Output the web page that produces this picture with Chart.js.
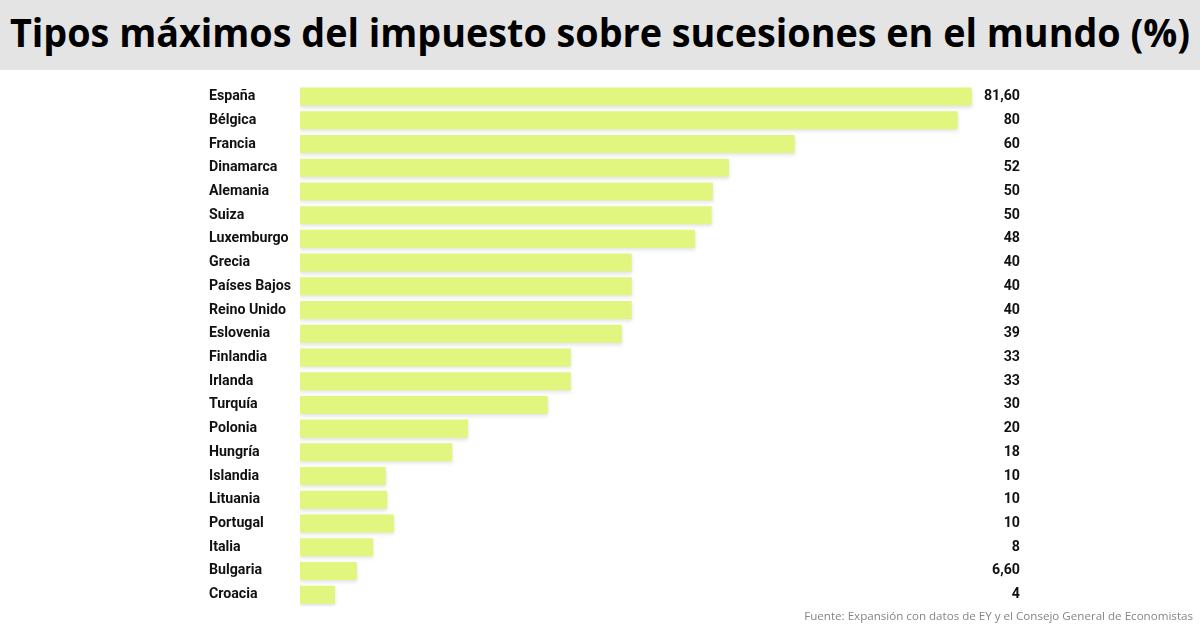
<!DOCTYPE html>
<html lang="es">
<head>
<meta charset="utf-8">
<title>Tipos máximos del impuesto sobre sucesiones</title>
<script src="https://cdn.jsdelivr.net/npm/chart.js@4/dist/chart.umd.min.js"></script>
<style>
    html, body { margin: 0; padding: 0; background: #fff; }
    body { width: 1200px; height: 627px; position: relative; overflow: hidden; }
    #title {
        position: absolute; left: 0; top: 0; width: 1200px; height: 70px;
        background: #e4e4e4; color: #000; white-space: nowrap;
    }
    #title span {
        position: absolute; left: 600px; top: 0; transform: translateX(-50%) scaleX(0.98);
        font: bold 38.5px/64px "Open Sans", sans-serif;
    }
    #chart-box { position: absolute; left: 0; top: 70px; width: 1200px; height: 557px; }
    #source {
        position: absolute; right: 7px; top: 607px; color: #858585;
        font: 11.6px/18px "Open Sans", sans-serif; white-space: nowrap;
    }
</style>
</head>
<body>
<div id="title"><span>Tipos máximos del impuesto sobre sucesiones en el mundo (%)</span></div>
<div id="chart-box"><canvas id="chart"></canvas></div>
<div id="source">Fuente: Expansión con datos de EY y el Consejo General de Economistas</div>
<script>
const countries = ['España', 'Bélgica', 'Francia', 'Dinamarca', 'Alemania', 'Suiza', 'Luxemburgo', 'Grecia',
    'Países Bajos', 'Reino Unido', 'Eslovenia', 'Finlandia', 'Irlanda', 'Turquía', 'Polonia', 'Hungría',
    'Islandia', 'Lituania', 'Portugal', 'Italia', 'Bulgaria', 'Croacia'];
// bar lengths as drawn in the picture (they do not always match the printed figure)
const barValues = [81.6, 79.9, 60.1, 52.1, 50.15, 50, 48, 40.3, 40.3, 40.3, 39.1, 32.9, 32.9, 30.1, 20.4, 18.5,
    10.4, 10.6, 11.4, 8.9, 6.9, 4.25];
const printedValues = ['81,60', '80', '60', '52', '50', '50', '48', '40', '40', '40', '39', '33', '33', '30', '20', '18',
    '10', '10', '10', '8', '6,60', '4'];

const labelFont = { family: 'Roboto', size: 14.2, weight: 'bold' };

// soft grey edge under the bars
const barShadow = {
    id: 'barShadow',
    beforeDatasetsDraw(chart) {
        const ctx = chart.ctx;
        ctx.save();
        ctx.shadowColor = 'rgba(0, 0, 0, 0.12)';
        ctx.shadowBlur = 4;
        ctx.shadowOffsetY = 2;
    },
    afterDatasetsDraw(chart) {
        chart.ctx.restore();
    }
};

new Chart(document.getElementById('chart'), {
    type: 'bar',
    data: {
        labels: countries,
        datasets: [{
            data: barValues,
            backgroundColor: '#e1f67e',
            barPercentage: 0.76,
            categoryPercentage: 1
        }]
    },
    options: {
        indexAxis: 'y',
        responsive: true,
        maintainAspectRatio: false,
        animation: false,
        layout: { padding: { left: 209, right: 180, top: 14.7, bottom: 20.5 } },
        plugins: { legend: { display: false }, tooltip: { enabled: false } },
        scales: {
            x: { display: false, min: 0, max: 82 },
            y: {
                position: 'left',
                grid: { display: false },
                border: { display: false },
                afterFit(scale) { scale.width = 91; },
                ticks: {
                    crossAlign: 'far', color: '#111', font: labelFont, padding: 0,
                    autoSkip: false, maxRotation: 0
                }
            },
            y2: {
                type: 'category',
                labels: printedValues,
                position: 'right',
                offset: true,
                grid: { display: false },
                border: { display: false },
                afterFit(scale) { scale.width = 45; },
                ticks: {
                    crossAlign: 'far', color: '#111', font: labelFont, padding: 0,
                    autoSkip: false, maxRotation: 0
                }
            }
        }
    },
    plugins: [barShadow]
});
</script>
</body>
</html>
